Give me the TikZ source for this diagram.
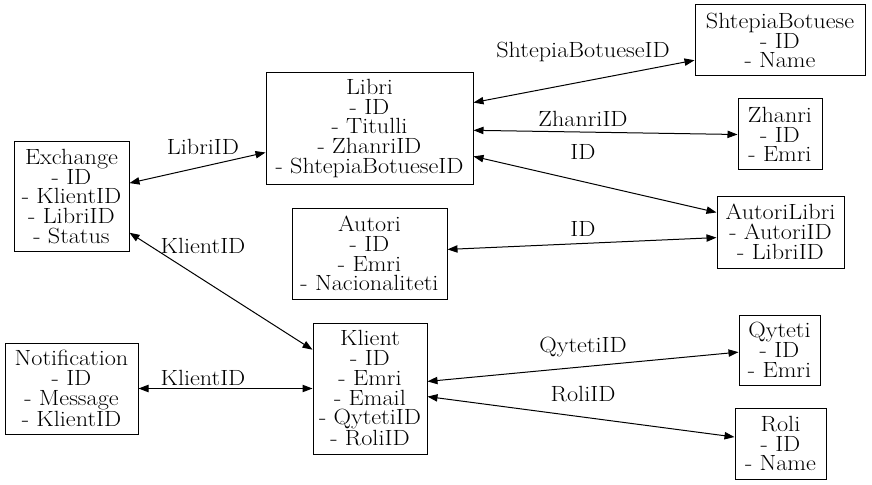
\documentclass[tikz,border=0pt]{standalone}
\usepackage{fontspec}
\setmainfont{Latin Modern Roman}[FakeStretch=1.1]
\usetikzlibrary{arrows.meta}

\tikzset{
  tbl/.style={draw, line width=0.75pt, align=center, inner sep=0pt,
    font=\fontsize{16.5}{14.8}\selectfont},
  lbl/.style={inner sep=0pt, font=\fontsize{16.5}{14.8}\selectfont},
  rel/.style={line width=0.75pt, {Triangle[length=7.5pt,width=5.5pt]}-{Triangle[length=7.5pt,width=5.5pt]}}
}

\begin{document}
\begin{tikzpicture}[x=0.75pt, y=-0.75pt]
  \useasboundingbox (0,0) rectangle (872,485);
  % tables
  \node[tbl, minimum width=170*0.75pt, minimum height=71*0.75pt] (shtepia) at (780,40.5) {ShtepiaBotuese\\- ID\\- Name};
  \node[tbl, minimum width=207*0.75pt, minimum height=111*0.75pt] (libri) at (369.5,128.5) {Libri\\- ID\\- Titulli\\- ZhanriID\\- ShtepiaBotueseID};
  \node[tbl, minimum width=84*0.75pt, minimum height=71*0.75pt] (zhanri) at (780,134.5) {Zhanri\\- ID\\- Emri};
  \node[tbl, minimum width=115*0.75pt, minimum height=109*0.75pt] (exchange) at (71.5,196.5) {Exchange\\- ID\\- KlientID\\- LibriID\\- Status};
  \node[tbl, minimum width=155*0.75pt, minimum height=91*0.75pt] (autori) at (369.5,253.5) {Autori\\- ID\\- Emri\\- Nacionaliteti};
  \node[tbl, minimum width=127*0.75pt, minimum height=72*0.75pt] (autorilibri) at (780.5,232) {AutoriLibri\\- AutoriID\\- LibriID};
  \node[tbl, minimum width=133*0.75pt, minimum height=91*0.75pt] (notification) at (71.5,388.5) {Notification\\- ID\\- Message\\- KlientID};
  \node[tbl, minimum width=114*0.75pt, minimum height=131*0.75pt] (klient) at (370,388.5) {Klient\\- ID\\- Emri\\- Email\\- QytetiID\\- RoliID};
  \node[tbl, minimum width=81*0.75pt, minimum height=70*0.75pt] (qyteti) at (779.5,350) {Qyteti\\- ID\\- Emri};
  \node[tbl, minimum width=91*0.75pt, minimum height=71*0.75pt] (roli) at (780.5,443.5) {Roli\\- ID\\- Name};

  % relations
  \draw[rel] (libri.14) -- (shtepia.193);
  \draw[rel] (libri.-1) -- (zhanri.west);
  \draw[rel] (libri.-15) -- (autorilibri.163);
  \draw[rel] (autori.3) -- (autorilibri.185);
  \draw[rel] (exchange.13) -- (libri.193);
  \draw[rel] (exchange.-32) -- (klient.146);
  \draw[rel] (notification.east) -- (klient.west);
  \draw[rel] (klient.7) -- (qyteti.183);
  \draw[rel] (klient.-8) -- (roli.172);

  % labels
  \node[lbl] (lshtepia) at (583,52) {ShtepiaBotueseID};
  \node[lbl] (lzhanri) at (583,119) {ZhanriID};
  \node[lbl] (lautorilibri) at (583,152) {ID};
  \node[lbl] (lautori) at (583,229) {ID};
  \node[lbl] (llibri) at (203,147) {LibriID};
  \node[lbl] (lexklient) at (203,246) {KlientID};
  \node[lbl] (lnotklient) at (203,378) {KlientID};
  \node[lbl] (lqyteti) at (583,347) {QytetiID};
  \node[lbl] (lroli) at (583,394) {RoliID};
\end{tikzpicture}
\end{document}
